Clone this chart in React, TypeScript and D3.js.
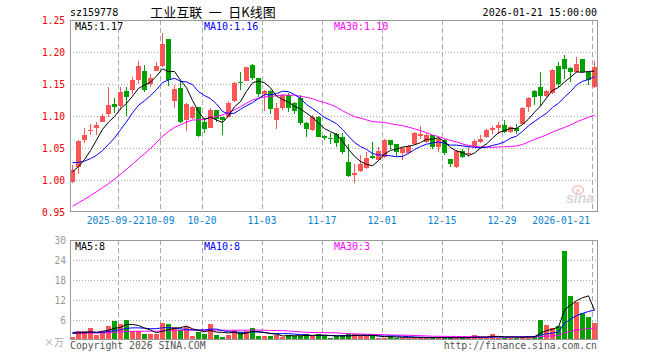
import React from 'react';
import * as d3 from 'd3';

const DATES = [
  '2025-09-10','2025-09-11','2025-09-12','2025-09-15','2025-09-16','2025-09-17','2025-09-18','2025-09-19',
  '2025-09-22','2025-09-23','2025-09-24','2025-09-25','2025-09-26','2025-09-29','2025-09-30',
  '2025-10-09','2025-10-10','2025-10-13','2025-10-14','2025-10-15','2025-10-16','2025-10-17','2025-10-20',
  '2025-10-21','2025-10-22','2025-10-23','2025-10-24','2025-10-27','2025-10-28','2025-10-29','2025-10-30','2025-10-31',
  '2025-11-03','2025-11-04','2025-11-05','2025-11-06','2025-11-07','2025-11-10','2025-11-11','2025-11-12','2025-11-13','2025-11-14',
  '2025-11-17','2025-11-18','2025-11-19','2025-11-20','2025-11-21','2025-11-24','2025-11-25','2025-11-26','2025-11-27','2025-11-28',
  '2025-12-01','2025-12-02','2025-12-03','2025-12-04','2025-12-05','2025-12-08','2025-12-09','2025-12-10','2025-12-11','2025-12-12',
  '2025-12-15','2025-12-16','2025-12-17','2025-12-18','2025-12-19','2025-12-22','2025-12-23','2025-12-24','2025-12-25','2025-12-26',
  '2025-12-29','2025-12-30','2025-12-31','2026-01-05','2026-01-06','2026-01-07','2026-01-08','2026-01-09',
  '2026-01-12','2026-01-13','2026-01-14','2026-01-15','2026-01-16','2026-01-19','2026-01-20','2026-01-21',
];

const OPEN = [
  0.997, 1.021, 1.062, 1.076, 1.082, 1.091, 1.1025, 1.1187, 1.1156, 1.1396,
  1.141, 1.156, 1.171, 1.150, 1.171, 1.178, 1.220, 1.123, 1.143, 1.093,
  1.0964, 1.1136, 1.091, 1.082, 1.110, 1.099, 1.099, 1.124, 1.1525, 1.1547,
  1.179, 1.159, 1.134, 1.139, 1.094, 1.112, 1.133, 1.121, 1.1276, 1.0896,
  1.078, 1.099, 1.068, 1.066, 1.072, 1.0667, 1.0286, 1.008, 1.0146, 1.018,
  1.0375, 1.031, 1.0354, 1.0625, 1.056, 1.0417, 1.0417, 1.0563, 1.0688, 1.0599,
  1.0703, 1.052, 1.0625, 1.0323, 1.0198, 1.0458, 1.040, 1.053, 1.0594, 1.0667,
  1.078, 1.0807, 1.086, 1.0755, 1.0807, 1.0875, 1.1146, 1.1396, 1.1448, 1.1312,
  1.1365, 1.178, 1.1885, 1.1745, 1.1693, 1.1885, 1.1693, 1.1458,
];
const HIGH = [
  1.023, 1.062, 1.081, 1.0875, 1.091, 1.103, 1.146, 1.1276, 1.146, 1.146,
  1.161, 1.186, 1.180, 1.166, 1.185, 1.230, 1.221, 1.148, 1.154, 1.120,
  1.115, 1.114, 1.0966, 1.112, 1.110, 1.099, 1.1227, 1.153, 1.169, 1.177,
  1.181, 1.160, 1.140, 1.140, 1.121, 1.1344, 1.1365, 1.1224, 1.133, 1.090,
  1.1016, 1.100, 1.070, 1.073, 1.074, 1.074, 1.056, 1.025, 1.039, 1.044,
  1.0599, 1.051, 1.0635, 1.0625, 1.057, 1.051, 1.0547, 1.0755, 1.0844, 1.073,
  1.071, 1.0667, 1.0635, 1.0323, 1.047, 1.048, 1.051, 1.0635, 1.0703, 1.079,
  1.0844, 1.091, 1.094, 1.0844, 1.0875, 1.1135, 1.129, 1.1406, 1.169, 1.1406,
  1.173, 1.1849, 1.1953, 1.177, 1.1917, 1.1885, 1.1693, 1.186,
];
const LOW = [
  0.995, 1.009, 1.058, 1.070, 1.070, 1.090, 1.099, 1.104, 1.110, 1.100,
  1.135, 1.150, 1.138, 1.146, 1.170, 1.176, 1.147, 1.112, 1.089, 1.077,
  1.095, 1.067, 1.074, 1.081, 1.090, 1.070, 1.098, 1.122, 1.140, 1.154,
  1.156, 1.130, 1.108, 1.1026, 1.0797, 1.110, 1.107, 1.1026, 1.086, 1.0667,
  1.077, 1.0667, 1.0625, 1.056, 1.052, 1.0406, 1.005, 0.996, 1.013, 1.0167,
  1.0323, 1.030, 1.034, 1.048, 1.0375, 1.031, 1.0406, 1.0547, 1.0635, 1.0583,
  1.048, 1.0443, 1.039, 1.0198, 1.019, 1.0339, 1.0354, 1.051, 1.0573, 1.065,
  1.072, 1.072, 1.074, 1.074, 1.072, 1.086, 1.1068, 1.1172, 1.1156, 1.129,
  1.1344, 1.1448, 1.1573, 1.1536, 1.1677, 1.1677, 1.1484, 1.144,
];
const CLOSE = [
  1.016, 1.061, 1.070, 1.078, 1.0865, 1.100, 1.117, 1.1146, 1.138, 1.129,
  1.156, 1.178, 1.141, 1.159, 1.178, 1.2125, 1.156, 1.142, 1.091, 1.119,
  1.1136, 1.069, 1.080, 1.110, 1.096, 1.094, 1.120, 1.152, 1.151, 1.176,
  1.160, 1.134, 1.139, 1.111, 1.112, 1.133, 1.112, 1.108, 1.0896, 1.0797,
  1.099, 1.0677, 1.066, 1.065, 1.0583, 1.0443, 1.0063, 1.0115, 1.025, 1.035,
  1.034, 1.0458, 1.0625, 1.0547, 1.0443, 1.0495, 1.053, 1.073, 1.072, 1.0703,
  1.051, 1.0635, 1.0427, 1.025, 1.0458, 1.0365, 1.0417, 1.0615, 1.0646, 1.078,
  1.0807, 1.086, 1.0755, 1.0833, 1.077, 1.112, 1.1276, 1.130, 1.1312, 1.1396,
  1.1719, 1.150, 1.173, 1.1682, 1.1813, 1.1693, 1.1563, 1.176,
];
// volume, unit: 万
const VOLUME = [
  1.0, 2.7, 2.7, 3.5, 1.5, 2.7, 4.2, 5.7, 4.7, 6.0,
  2.7, 2.7, 1.8, 1.8, 1.8, 5.2, 4.8, 3.9, 2.9, 3.9,
  1.3, 2.5, 1.8, 4.8, 1.5, 0.9, 1.5, 2.9, 2.3, 2.7,
  3.7, 1.2, 1.2, 1.2, 1.5, 1.0, 1.5, 1.2, 1.2, 1.9,
  1.1, 1.9, 1.2, 0.7, 1.2, 1.2, 1.8, 1.8, 1.2, 1.2,
  1.2, 0.7, 0.7, 1.2, 0.7, 0.7, 0.7, 0.7, 0.7, 0.7,
  0.7, 0.7, 0.7, 0.7, 0.7, 0.7, 0.7, 1.5, 0.7, 0.7,
  1.8, 0.7, 0.7, 0.7, 0.7, 1.2, 1.2, 1.2, 6.0, 4.5,
  3.5, 4.2, 26.7, 13.2, 11.3, 8.0, 7.0, 5.2,
];
// sessions before the visible window (needed for the moving averages)
const PRIOR_CLOSE = [
  0.90, 0.905, 0.91, 0.90, 0.915, 0.92, 0.91, 0.905, 0.90, 0.915,
  0.92, 0.91, 0.905, 0.91, 0.915, 0.93, 0.95, 0.97, 0.99, 1.02,
  1.055, 1.050, 1.040, 1.035, 1.026, 1.020, 1.015, 1.008, 1.005,
];
const PRIOR_VOLUME = [
  1.6, 1.9, 2.2, 1.7, 1.8, 2.0, 1.5, 1.9, 2.1, 1.8,
  1.7, 2.0, 1.6, 1.9, 1.8, 2.2, 1.7, 1.9, 1.8, 1.9,
  2.4, 2.8, 2.6, 2.7, 2.5, 2.1, 2.4, 2.2, 2.3,
];

const PRICE_TICKS = [0.95, 1.0, 1.05, 1.1, 1.15, 1.2, 1.25];
const VOLUME_TICKS = [6, 12, 18, 24, 30];
const DATE_TICKS = ['2025-09-22','2025-10-09','2025-10-20','2025-11-03','2025-11-17','2025-12-01','2025-12-15','2025-12-29','2026-01-21'];
const DATE_TICK_LABELS = ['2025-09-22','10-09','10-20','11-03','11-17','12-01','12-15','12-29','2026-01-21'];

const TITLE_CODE = 'sz159778';
const TITLE_NAME = '工业互联\u2002一\u2002日K线图';
const TIMESTAMP = '2026-01-21 15:00:00';

const MONO = '"DejaVu Sans Mono", "Liberation Mono", monospace';
const RED = '#ff5555';
const GREEN = '#00a000';
const GRID = '#a8a8a8';
const FRAME = '#999999';

function movingAverage(prior: number[], values: number[], n: number): number[] {
  const all = prior.concat(values);
  return values.map((_, i) => {
    const end = prior.length + i + 1;
    return d3.mean(all.slice(end - n, end)) as number;
  });
}

export default function App() {
  const W = 660, H = 360;
  const left = 70, right = 598;
  const pTop = 20, pBottom = 212;
  const vTop = 240, vBottom = 340;
  const idx = d3.range(DATES.length);
  const x = d3.scaleBand<number>().domain(idx).range([left, right]).paddingInner(0).paddingOuter(0);
  const bw = x.bandwidth();
  const yP = d3.scaleLinear().domain([0.95, 1.25]).range([pBottom, pTop]);
  const yV = d3.scaleLinear().domain([0, 30]).range([vBottom, vTop]);

  const ma5 = movingAverage(PRIOR_CLOSE, CLOSE, 5);
  const ma10 = movingAverage(PRIOR_CLOSE, CLOSE, 10);
  const ma30 = movingAverage(PRIOR_CLOSE, CLOSE, 30);
  const vma5 = movingAverage(PRIOR_VOLUME, VOLUME, 5);
  const vma10 = movingAverage(PRIOR_VOLUME, VOLUME, 10);
  const vma30 = movingAverage(PRIOR_VOLUME, VOLUME, 30);

  const cx = (i: number) => (x(i) as number) + (bw - 1) / 2;
  const lineP = (arr: number[]) => d3.line<number>().x((_, i) => cx(i)).y((d) => yP(d))(arr) as string;
  const lineV = (arr: number[]) => d3.line<number>().x((_, i) => cx(i)).y((d) => yV(d))(arr) as string;

  const last = DATES.length - 1;
  const up = (i: number) => CLOSE[i] >= OPEN[i];

  const tickX = DATE_TICKS.map((d) => x(DATES.indexOf(d)) as number);

  return (
    <svg width={W} height={H} style={{ position: 'absolute', left: 0, top: 0, background: '#fff' }}
      fontFamily={MONO}>
      <rect x={0} y={0} width={W} height={H} fill="#fff" />
      {/* header */}
      <text x={70} y={16} fontSize={10} fill="#000">{TITLE_CODE}</text>
      <text x={213} y={17} fontSize={13} textAnchor="middle" fill="#000"
        fontFamily='"Noto Sans CJK SC", sans-serif'>{TITLE_NAME}</text>
      <text x={597} y={16} fontSize={10} textAnchor="end" fill="#000">{TIMESTAMP}</text>

      {/* price grid */}
      {PRICE_TICKS.filter((t) => t > 0.951 && t < 1.249).map((t) => (
        <line key={'pg' + t} x1={left} x2={right} y1={Math.round(yP(t)) + 0.5} y2={Math.round(yP(t)) + 0.5}
          stroke={GRID} strokeDasharray="1,2" />
      ))}
      {VOLUME_TICKS.filter((t) => t < 30).map((t) => (
        <line key={'vg' + t} x1={left} x2={right} y1={Math.round(yV(t)) + 0.5} y2={Math.round(yV(t)) + 0.5}
          stroke={GRID} strokeDasharray="1,2" />
      ))}
      {tickX.map((tx, k) => (
        <g key={'vx' + k}>
          <line x1={tx + 0.5} x2={tx + 0.5} y1={pTop} y2={pBottom} stroke={GRID} strokeDasharray="5,3" />
          <line x1={tx + 0.5} x2={tx + 0.5} y1={vTop} y2={vBottom} stroke={GRID} strokeDasharray="5,3" />
        </g>
      ))}

      {/* sina watermark */}
      <g opacity={0.9}>
        <ellipse cx={578} cy={190} rx={5.5} ry={4} fill="none" stroke="#f3c0c0" strokeWidth={1.6} />
        <circle cx={578} cy={190.5} r={1.6} fill="#f3c0c0" />
        <text x={566} y={203} fontSize={14} fontStyle="italic" fontWeight="bold" fill="#d4d4d4"
          fontFamily='"Liberation Sans", Arial, sans-serif'>sina</text>
      </g>

      {/* candles */}
      <g shapeRendering="crispEdges">
        {idx.map((i) => {
          const col = up(i) ? RED : GREEN;
          const bx = x(i) as number;
          const top = yP(Math.max(OPEN[i], CLOSE[i]));
          const bot = yP(Math.min(OPEN[i], CLOSE[i]));
          return (
            <g key={'c' + i}>
              <rect x={bx + 2} y={yP(HIGH[i])} width={1} height={Math.max(1, yP(LOW[i]) - yP(HIGH[i]))} fill={col} />
              <rect x={bx} y={top} width={bw - 1} height={Math.max(1, bot - top)} fill={col} />
            </g>
          );
        })}
      </g>

      {/* price MAs */}
      <path d={lineP(ma30)} fill="none" stroke="#ff00ff" strokeWidth={1} />
      <path d={lineP(ma10)} fill="none" stroke="#0000ff" strokeWidth={1} />
      <path d={lineP(ma5)} fill="none" stroke="#000" strokeWidth={1} />

      {/* volume bars */}
      <g shapeRendering="crispEdges">
        {idx.map((i) => (
          <rect key={'v' + i} x={x(i) as number} y={yV(VOLUME[i])} width={bw - 1}
            height={vBottom - yV(VOLUME[i])} fill={up(i) ? RED : GREEN} />
        ))}
      </g>
      <path d={lineV(vma30)} fill="none" stroke="#ff00ff" strokeWidth={1} />
      <path d={lineV(vma10)} fill="none" stroke="#0000ff" strokeWidth={1} />
      <path d={lineV(vma5)} fill="none" stroke="#000" strokeWidth={1} />

      {/* frames */}
      <rect x={left + 0.5} y={pTop + 0.5} width={right - left - 1} height={pBottom - pTop - 1}
        fill="none" stroke={FRAME} />
      <rect x={left + 0.5} y={vTop + 0.5} width={right - left - 1} height={vBottom - vTop - 1}
        fill="none" stroke={FRAME} />

      {/* price axis labels */}
      {PRICE_TICKS.map((t) => (
        <text key={'pl' + t} x={65} y={yP(t) + 4} fontSize={9.6} textAnchor="end" fill="#ee0000">
          {t.toFixed(2)}
        </text>
      ))}
      {VOLUME_TICKS.map((t) => (
        <text key={'vl' + t} x={66} y={yV(t) + 4} fontSize={9.6} textAnchor="end" fill="#999">
          {t}
        </text>
      ))}
      <text x={64} y={346} fontSize={10} textAnchor="end" fill="#aaa"
        fontFamily='"Noto Sans CJK SC", sans-serif'>×万</text>

      {/* date labels */}
      {DATE_TICK_LABELS.map((lab, k) => {
        let anchor: 'middle' | 'end' = 'middle';
        let tx = tickX[k];
        if (k === 0) { anchor = 'end'; tx = tickX[1] - 15.5; }
        if (k === DATE_TICK_LABELS.length - 1) { anchor = 'end'; tx = tickX[k] - 2; }
        return (
          <text key={'dl' + k} x={tx} y={224} fontSize={9.6} textAnchor={anchor} fill="#0a82d2">{lab}</text>
        );
      })}

      {/* MA legends */}
      <text x={75} y={30} fontSize={10} fill="#000">{'MA5:' + ma5[last].toFixed(2)}</text>
      <text x={204} y={30} fontSize={10} fill="#0000ff">{'MA10:' + ma10[last].toFixed(2)}</text>
      <text x={334} y={30} fontSize={10} fill="#ff00ff">{'MA30:' + ma30[last].toFixed(2)}</text>
      <text x={75} y={250} fontSize={10} fill="#000">{'MA5:' + Math.floor(vma5[last])}</text>
      <text x={204} y={250} fontSize={10} fill="#0000ff">{'MA10:' + Math.floor(vma10[last])}</text>
      <text x={334} y={250} fontSize={10} fill="#ff00ff">{'MA30:' + Math.floor(vma30[last])}</text>

      {/* footer */}
      <text x={70} y={349} fontSize={9.8} fill="#555">Copyright 2026 SINA.COM</text>
      <text x={597} y={349} fontSize={9.8} textAnchor="end" fill="#555">http://finance.sina.com.cn</text>
    </svg>
  );
}
